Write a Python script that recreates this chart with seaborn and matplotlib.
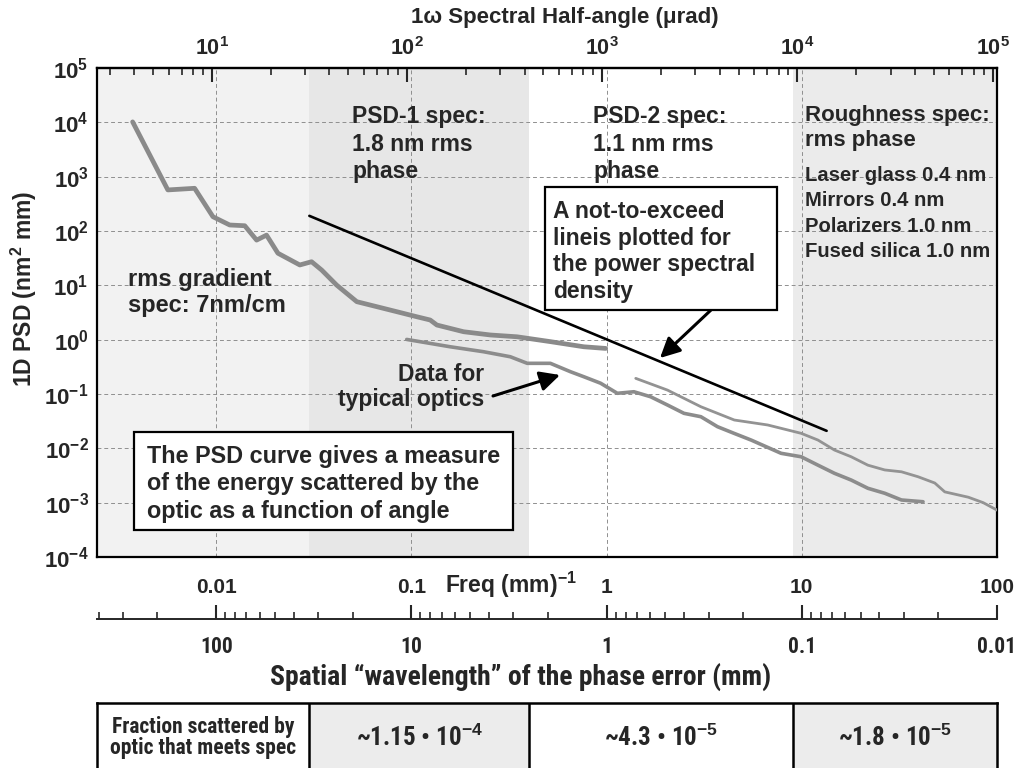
import numpy as np
import matplotlib
matplotlib.use("Agg")
import matplotlib.pyplot as plt
import seaborn as sns
from matplotlib.ticker import LogLocator, NullFormatter
from matplotlib.patches import Rectangle

# ---------------- data ----------------
freq_typical_a = [0.00373, 0.00565, 0.00775, 0.00962, 0.01172, 0.0140, 0.0161, 0.0181, 0.0207,
                  0.0268, 0.0308, 0.0347, 0.0414, 0.0525, 0.0664, 0.0842, 0.1066, 0.1248, 0.135,
                  0.185, 0.2535, 0.3476, 0.515, 0.764, 0.989]
psd_typical_a = [1.02e4, 570, 611, 183, 129, 125, 68, 84, 39,
                 23.7, 27.2, 19.1, 10.1, 5.0, 4.05, 3.27, 2.64, 2.30, 1.86,
                 1.40, 1.22, 1.13, 0.92, 0.74, 0.69]

freq_typical_b = [0.0946, 0.158, 0.234, 0.321, 0.392, 0.515, 0.653, 0.764, 0.931, 1.135, 1.38,
                  1.68, 2.05, 2.49, 3.04, 3.70, 4.51, 5.50, 7.83, 9.92, 12.1, 14.7, 17.9,
                  21.8, 26.6, 32.4, 41.8]
psd_typical_b = [1.01, 0.74, 0.60, 0.485, 0.367, 0.367, 0.257, 0.208, 0.158, 0.103, 0.110,
                 0.089, 0.0627, 0.0441, 0.0382, 0.0250, 0.0188, 0.0142, 0.0081, 0.0070, 0.0049,
                 0.00347, 0.00261, 0.00184, 0.00149, 0.00112, 0.00104]

freq_typical_c = [1.41, 2.05, 3.04, 4.51, 6.69, 9.92, 12.1, 14.7, 17.9, 21.8, 26.6, 32.4,
                  39.4, 48, 54, 71.3, 85, 100]
psd_typical_c = [0.194, 0.118, 0.0583, 0.0332, 0.0269, 0.0189, 0.0142, 0.0093, 0.0070, 0.0049,
                 0.0040, 0.0037, 0.0030, 0.0023, 0.00158, 0.00126, 0.00100, 0.00073]

limit_freq = [0.03, 13.4]
limit_psd = [190, 0.021]

region_edges = [0.00245, 0.03, 0.4, 9.0, 100]
fraction_values = ["~1.15 \u2022 10$^{-4}$", "~4.3 \u2022 10$^{-5}$", "~1.8 \u2022 10$^{-5}$"]

psd_ticks = [1e-4, 1e-3, 1e-2, 1e-1, 1e0, 1e1, 1e2, 1e3, 1e4, 1e5]
psd_tick_labels = ["10$^{-4}$", "10$^{-3}$", "10$^{-2}$", "10$^{-1}$", "10$^{0}$",
                   "10$^{1}$", "10$^{2}$", "10$^{3}$", "10$^{4}$", "10$^{5}$"]
freq_ticks = [0.01, 0.1, 1, 10, 100]
freq_tick_labels = ["0.01", "0.1", "1", "10", "100"]
angle_ticks = [1e1, 1e2, 1e3, 1e4, 1e5]
angle_tick_labels = ["10$^{1}$", "10$^{2}$", "10$^{3}$", "10$^{4}$", "10$^{5}$"]
wavelength_ticks = [100, 10, 1, 0.1, 0.01]
wavelength_tick_labels = ["100", "10", "1", "0.1", "0.01"]
URAD_PER_INV_MM = 1053.0   # lambda = 1.053 um

# ---------------- style ----------------
sns.set_style("white")
plt.rcParams["font.family"] = ["Liberation Sans", "DejaVu Sans"]
plt.rcParams["font.weight"] = "bold"
plt.rcParams["mathtext.fontset"] = "custom"
plt.rcParams["mathtext.rm"] = "Liberation Sans:bold"
plt.rcParams["mathtext.bf"] = "Liberation Sans:bold"
plt.rcParams["mathtext.it"] = "Liberation Sans:bold"
NARROW = ["Liberation Sans Narrow", "Roboto Condensed", "DejaVu Sans Condensed",
          "Liberation Sans", "DejaVu Sans"]

W, H = 1016, 768
fig = plt.figure(figsize=(W / 100, H / 100), dpi=100)
fig.patch.set_facecolor("white")


def fx(x):
    return x / W


def fy(y):
    return 1 - y / H


ax = fig.add_axes([fx(97), fy(557), (997 - 97) / W, (557 - 68) / H])
ax.set_xscale("log")
ax.set_yscale("log")
ax.set_xlim(region_edges[0], region_edges[-1])
ax.set_ylim(1e-4, 1e5)

# shaded spec regions
region_colors = ["#f2f2f2", "#e7e7e7", "#ffffff", "#ebebeb"]
for (a, b), c in zip(zip(region_edges[:-1], region_edges[1:]), region_colors):
    ax.axvspan(a, b, color=c, lw=0, zorder=0)

ax.grid(True, which="major", axis="both", ls=(0, (4, 3)), lw=0.7, color="#8f8f8f", zorder=1)

# curves
sns.lineplot(x=freq_typical_a, y=psd_typical_a, ax=ax, color="#8a8a8a", lw=3.4,
             sort=False, estimator=None, zorder=3)
sns.lineplot(x=freq_typical_b, y=psd_typical_b, ax=ax, color="#8c8c8c", lw=2.6,
             sort=False, estimator=None, zorder=3)
sns.lineplot(x=freq_typical_c, y=psd_typical_c, ax=ax, color="#939393", lw=2.0,
             sort=False, estimator=None, zorder=3)
sns.lineplot(x=limit_freq, y=limit_psd, ax=ax, color="black", lw=1.9,
             sort=False, estimator=None, zorder=4)

for s in ax.spines.values():
    s.set_linewidth(1.6)
    s.set_color("black")

ax.set_yticks(psd_ticks, psd_tick_labels, fontsize=16)
ax.yaxis.set_minor_locator(plt.NullLocator())
ax.tick_params(axis="y", length=0, pad=6)
ax.set_xticks(freq_ticks, freq_tick_labels, fontsize=15)
ax.xaxis.set_minor_locator(LogLocator(base=10, subs=np.arange(2, 10), numticks=20))
ax.xaxis.set_minor_formatter(NullFormatter())
ax.tick_params(axis="x", which="major", direction="in", length=10, width=1.5, pad=15)
ax.tick_params(axis="x", which="minor", direction="in", length=5, width=1.2)


def to_urad(f):
    return np.asarray(f, float) * URAD_PER_INV_MM


def to_freq(a):
    return np.asarray(a, float) / URAD_PER_INV_MM


def inv(x):
    x = np.asarray(x, float)
    with np.errstate(divide="ignore", invalid="ignore"):
        return 1.0 / x


top = ax.secondary_xaxis("top", functions=(to_urad, to_freq))
top.set_xticks(angle_ticks, angle_tick_labels, fontsize=15.5)
top.xaxis.set_minor_locator(LogLocator(base=10, subs=np.arange(2, 10), numticks=20))
top.xaxis.set_minor_formatter(NullFormatter())
top.tick_params(axis="x", which="major", direction="in", length=10, width=1.5, pad=6)
top.tick_params(axis="x", which="minor", direction="in", length=5, width=1.2)
for s in top.spines.values():
    s.set_linewidth(1.6)

wl = ax.secondary_xaxis(-0.127, functions=(inv, inv))
wl.set_xticks(wavelength_ticks, wavelength_tick_labels, fontsize=15.5, fontfamily=NARROW)
wl.xaxis.set_minor_locator(LogLocator(base=10, subs=np.arange(2, 10), numticks=20))
wl.xaxis.set_minor_formatter(NullFormatter())
wl.tick_params(axis="x", which="major", direction="in", length=10, width=1.5, pad=12)
wl.tick_params(axis="x", which="minor", direction="in", length=5, width=1.2)
for s in wl.spines.values():
    s.set_linewidth(1.4)

# axis titles
fig.text(fx(565), fy(17), "1\u03c9 Spectral Half-angle (\u03bcrad)", ha="center", va="center",
         fontsize=16)
fig.text(fx(24), fy(289), "1D PSD (nm$^{2}$ mm)", rotation=90, ha="center", va="center",
         fontsize=16.5)
fig.text(fx(445), fy(585), "Freq (mm)$^{-1}$", ha="left", va="center", fontsize=16.5)
fig.text(fx(521), fy(677), "Spatial \u201cwavelength\u201d of the phase error (mm)",
         ha="center", va="center", fontsize=20, fontfamily=NARROW)

# region annotations
fig.text(fx(352), fy(105), "PSD-1 spec:\n1.8 nm rms\nphase", ha="left", va="top",
         fontsize=16.5, linespacing=1.26)
fig.text(fx(593), fy(105), "PSD-2 spec:\n1.1 nm rms\nphase", ha="left", va="top",
         fontsize=16.5, linespacing=1.26)
fig.text(fx(805), fy(105), "Roughness spec:\nrms phase", ha="left", va="top",
         fontsize=16, linespacing=1.26)
fig.text(fx(805), fy(166), "Laser glass 0.4 nm\nMirrors 0.4 nm\nPolarizers 1.0 nm\nFused silica 1.0 nm",
         ha="left", va="top", fontsize=14.6, linespacing=1.42)
fig.text(fx(128), fy(268), "rms gradient\nspec: 7nm/cm", ha="left", va="top",
         fontsize=17, linespacing=1.17)

# boxed notes
fig.patches.append(Rectangle((fx(134), fy(530)), (513 - 134) / W, (530 - 432) / H,
                             transform=fig.transFigure, facecolor="white", edgecolor="black",
                             lw=1.6, zorder=5))
fig.text(fx(147), fy(445), "The PSD curve gives a measure\nof the energy scattered by the\n"
         "optic as a function of angle", ha="left", va="top", fontsize=16.8, linespacing=1.24,
         zorder=6)
fig.patches.append(Rectangle((fx(545), fy(310)), (777 - 545) / W, (310 - 187) / H,
                             transform=fig.transFigure, facecolor="white", edgecolor="black",
                             lw=1.6, zorder=5))
fig.text(fx(553), fy(200), "A not-to-exceed\nlineis plotted for\nthe power spectral\ndensity",
         ha="left", va="top", fontsize=16.5, linespacing=1.2, zorder=6)

fig.text(fx(484), fy(363), "Data for\ntypical optics", ha="right", va="top",
         fontsize=16.5, linespacing=1.12)

arrow = dict(arrowstyle="-|>", mutation_scale=30, lw=2.2, color="black", shrinkA=0, shrinkB=0)
ax.annotate("", xy=(fx(660), fy(358)), xytext=(fx(711), fy(310)),
            xycoords="figure fraction", textcoords="figure fraction", arrowprops=arrow, zorder=7)
ax.annotate("", xy=(fx(560), fy(375)), xytext=(fx(493), fy(396)),
            xycoords="figure fraction", textcoords="figure fraction", arrowprops=arrow, zorder=7)

# fraction-scattered table
tax = fig.add_axes([fx(97), 0, (997 - 97) / W, (768 - 703) / H])
tax.set_xscale("log")
tax.set_xlim(region_edges[0], region_edges[-1])
tax.set_ylim(0, 1)
cell_colors = ["#ffffff", "#ececec", "#ffffff", "#ececec"]
for (a, b), c in zip(zip(region_edges[:-1], region_edges[1:]), cell_colors):
    tax.axvspan(a, b, color=c, lw=0)
for e in region_edges[1:-1]:
    tax.axvline(e, color="black", lw=1.8)
tax.set_xticks([])
tax.set_yticks([])
tax.xaxis.set_minor_locator(plt.NullLocator())
for k in ["top", "left", "right"]:
    tax.spines[k].set_linewidth(1.8)
    tax.spines[k].set_color("black")
    tax.spines[k].set_visible(True)
tax.spines["bottom"].set_visible(False)
tax.text(np.sqrt(region_edges[0] * region_edges[1]), 0.47,
         "Fraction scattered by\noptic that meets spec", ha="center", va="center",
         fontsize=15.5, fontfamily=NARROW, linespacing=0.98)
for i, txt in enumerate(fraction_values):
    cx = np.sqrt(region_edges[i + 1] * region_edges[i + 2])
    tax.text(cx, 0.47, txt, ha="center", va="center", fontsize=18, fontfamily=NARROW)

fig.savefig("out.png", dpi=100, facecolor="white")
